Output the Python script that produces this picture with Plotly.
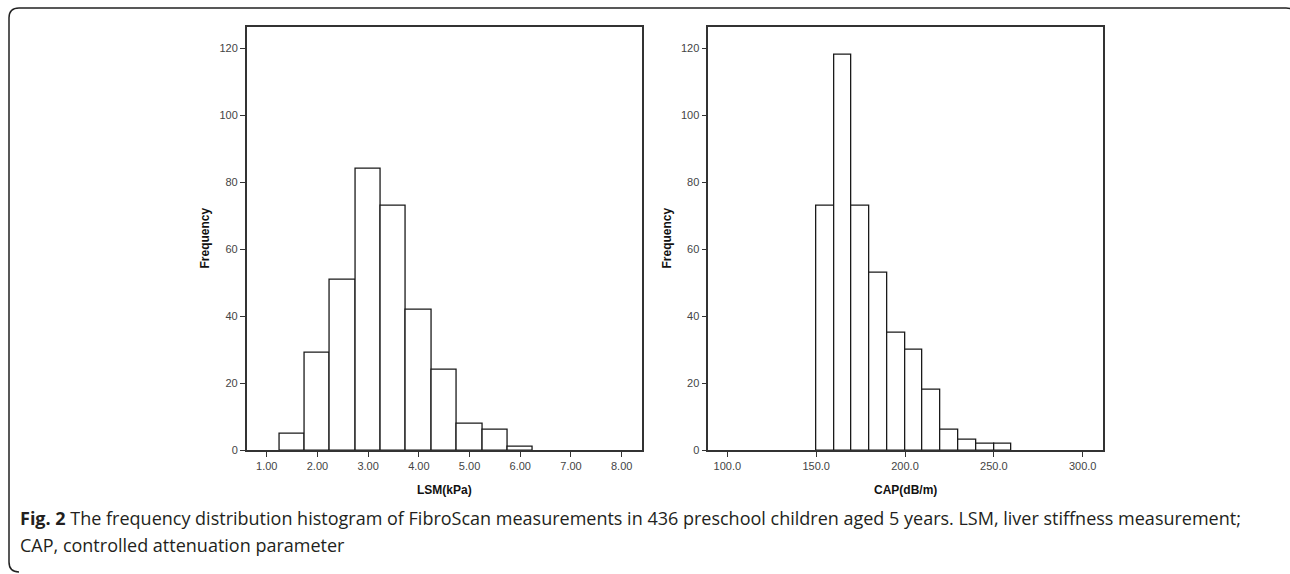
import plotly.graph_objects as go

# ---- data ----
lsm_bin_starts = [1.25, 1.75, 2.25, 2.75, 3.25, 3.75, 4.25, 4.75, 5.25, 5.75]
lsm_counts = [5, 29, 51, 84, 73, 42, 24, 8, 6, 1]
lsm_bin_width = 0.5

cap_bin_starts = [150, 160, 170, 180, 190, 200, 210, 220, 230, 240, 250]
cap_counts = [73, 118, 73, 53, 35, 30, 18, 6, 3, 2, 2]
cap_bin_width = 10

y_ticks = [0, 20, 40, 60, 80, 100, 120]
lsm_ticks = [1, 2, 3, 4, 5, 6, 7, 8]
lsm_tick_labels = ["1.00", "2.00", "3.00", "4.00", "5.00", "6.00", "7.00", "8.00"]
cap_ticks = [100, 150, 200, 250, 300]
cap_tick_labels = ["100.0", "150.0", "200.0", "250.0", "300.0"]

W, H = 1290, 574


def px(x):
    return x / W


def py(y):
    return 1 - y / H


fig = go.Figure()

fig.add_trace(go.Bar(
    x=[s + lsm_bin_width / 2 for s in lsm_bin_starts], y=lsm_counts,
    width=lsm_bin_width, marker=dict(color="white", line=dict(color="#1a1a1a", width=1.3)),
    xaxis="x", yaxis="y", showlegend=False, hoverinfo="x+y"))
fig.add_trace(go.Bar(
    x=[s + cap_bin_width / 2 for s in cap_bin_starts], y=cap_counts,
    width=cap_bin_width, marker=dict(color="white", line=dict(color="#1a1a1a", width=1.3)),
    xaxis="x2", yaxis="y2", showlegend=False, hoverinfo="x+y"))

axis_common = dict(showline=True, linecolor="#333333", linewidth=1.5, mirror=True,
                   ticks="outside", ticklen=5, tickwidth=1.2, tickcolor="#333333",
                   showgrid=False, zeroline=False,
                   tickfont=dict(family="Liberation Sans, Arial", size=11, color="#444444"))

ydom = [py(455), py(27)]
fig.update_layout(
    width=W, height=H,
    margin=dict(l=0, r=0, t=0, b=0),
    paper_bgcolor="white", plot_bgcolor="white",
    bargap=0,
    xaxis=dict(domain=[px(246.7), px(641.7)], range=[0.605, 8.395],
               tickvals=lsm_ticks, ticktext=lsm_tick_labels, anchor="y", **axis_common),
    yaxis=dict(domain=ydom, range=[0, 126.4], tickvals=y_ticks, anchor="x", **axis_common),
    xaxis2=dict(domain=[px(708.3), px(1103.3)], range=[89.3, 311.6],
                tickvals=cap_ticks, ticktext=cap_tick_labels, anchor="y2", **axis_common),
    yaxis2=dict(domain=ydom, range=[0, 126.4], tickvals=y_ticks, anchor="x2", **axis_common),
)

title_font = dict(family="Liberation Sans, Arial", size=12, color="#111111")
ann = [
    dict(text="<b>Frequency</b>", x=px(205), y=py(241), textangle=-90),
    dict(text="<b>Frequency</b>", x=px(667), y=py(241), textangle=-90),
    dict(text="<b>LSM(kPa)</b>", x=px(444.2), y=py(495)),
    dict(text="<b>CAP(dB/m)</b>", x=px(905.8), y=py(495)),
]
for a in ann:
    fig.add_annotation(xref="paper", yref="paper", showarrow=False,
                       xanchor="center", yanchor="middle", font=title_font, **a)

cap_font = dict(family="Open Sans, Noto Sans", size=18, color="#231f20")
fig.add_annotation(xref="paper", yref="paper", showarrow=False, xanchor="left", yanchor="middle",
                   x=px(18), y=py(523), font=cap_font,
                   text="<b>Fig. 2</b> The frequency distribution histogram of FibroScan measurements in 436 "
                        "preschool children aged 5 years. LSM, liver stiffness measurement;")
fig.add_annotation(xref="paper", yref="paper", showarrow=False, xanchor="left", yanchor="middle",
                   x=px(18), y=py(551), font=cap_font,
                   text="CAP, controlled attenuation parameter")

# rounded outer frame (right edge and bottom fall just outside the picture)
x0, x1 = 9, 1296
y0, y1 = 8, 578
r = 10
path = (f"M {px(x0 + r)},{py(y1)} Q {px(x0)},{py(y1)} {px(x0)},{py(y1 - r)} "
        f"L {px(x0)},{py(y0 + r)} "
        f"Q {px(x0)},{py(y0)} {px(x0 + r)},{py(y0)} "
        f"L {px(x1 - r)},{py(y0)} Q {px(x1)},{py(y0)} {px(x1)},{py(y0 + r)} "
        f"L {px(x1)},{py(y1)}")
fig.add_shape(type="path", xref="paper", yref="paper", path=path,
              line=dict(color="#222222", width=1.5))

fig.write_html("out.html", config={"displayModeBar": False},
               post_script="document.body.style.margin='0px';")
